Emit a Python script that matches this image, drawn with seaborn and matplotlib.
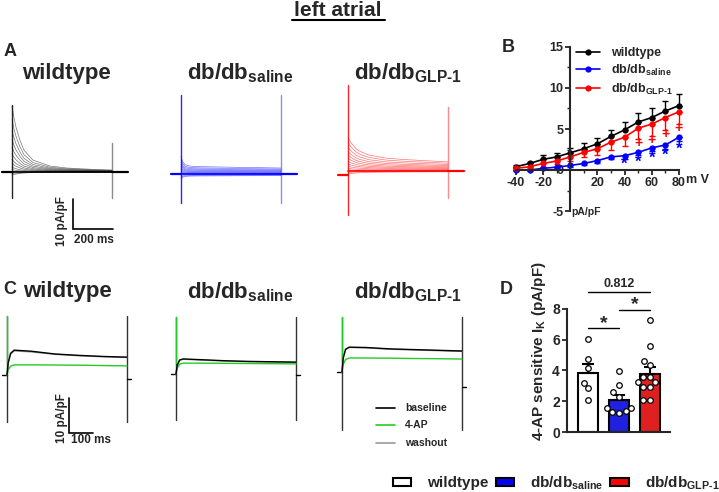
import numpy as np
import pandas as pd
import matplotlib
matplotlib.use("Agg")
import matplotlib.pyplot as plt
from matplotlib.patches import Patch
from matplotlib.ticker import MultipleLocator
import seaborn as sns

sns.set_style("ticks")
plt.rcParams["font.family"] = ["Liberation Sans", "DejaVu Sans"]
plt.rcParams["font.weight"] = "bold"
plt.rcParams["axes.unicode_minus"] = False
plt.rcParams["mathtext.fontset"] = "custom"
plt.rcParams["mathtext.rm"] = "Liberation Sans:bold"
plt.rcParams["mathtext.bf"] = "Liberation Sans:bold"
plt.rcParams["mathtext.it"] = "Liberation Sans:bold"

# ---------------- data ----------------
groups = ["wildtype", "db/db_saline", "db/db_GLP-1"]
group_labels = ["wildtype", r"db/db$_{\mathbf{saline}}$", r"db/db$_{\mathbf{GLP\text{-}1}}$"]
group_colors = ["#000000", "#0000ff", "#ff0000"]

# Panel B: I-V relation (mV, pA/pF)
iv_mv = [-40, -30, -20, -10, 0, 10, 20, 30, 40, 50, 60, 70, 80]
iv_wt = [0.4, 0.8, 1.3, 1.6, 2.1, 2.6, 3.2, 4.1, 4.9, 5.85, 6.4, 7.2, 7.85]
iv_wt_sem = [0.2, 0.2, 0.5, 0.5, 0.6, 0.7, 0.75, 0.8, 1.0, 1.05, 1.2, 1.25, 1.4]
iv_sal = [0.0, 0.0, 0.2, 0.35, 0.55, 0.8, 1.15, 1.6, 1.75, 2.15, 2.7, 3.05, 4.0]
iv_sal_sem = [0.1, 0.1, 0.1, 0.15, 0.2, 0.2, 0.25, 0.3, 0.35, 0.35, 0.4, 0.45, 0.5]
iv_glp = [0.2, 0.4, 0.8, 1.1, 1.6, 2.15, 2.6, 3.4, 4.0, 5.1, 5.6, 6.4, 7.1]
iv_glp_sem = [0.2, 0.3, 0.4, 0.4, 0.5, 0.6, 0.8, 0.9, 1.1, 1.3, 1.4, 1.5, 1.5]
star_mv = [40, 50, 60, 70, 80]
star_y = [0.75, 0.9, 1.4, 1.8, 2.55]
plus_mv = [50, 60, 70, 80]
plus_y = [3.25, 3.65, 4.35, 5.1]

# Panel D: 4-AP sensitive IK (pA/pF), individual cells
d_wt = [6.05, 4.75, 4.15, 3.2, 2.85, 2.1]
d_sal = [3.93, 3.07, 2.57, 2.3, 1.54, 1.54, 1.37, 1.22, 1.33]
d_glp = [7.26, 5.61, 4.59, 4.37, 3.57, 3.57, 3.22, 3.22, 2.89, 2.89, 2.1, 2.1]

# Panel A: representative sweeps (-40..+80 mV): peak amplitude per sweep and
# normalised time course
a_t = [0, 10, 20, 40, 60, 105, 190, 275, 400, 500]
a_wt_peaks = [-1.0, -0.5, 0.2, 0.8, 1.6, 2.8, 4.2, 6.0, 8.2, 10.8, 13.8, 17.5, 22.0]
a_wt_shape = [1.0, 0.82, 0.68, 0.48, 0.33, 0.18, 0.09, 0.06, 0.04, 0.03]
a_sal_peaks = [-1.5, -1.0, -0.5, 0.2, 0.6, 1.0, 1.5, 2.0, 2.6, 3.2, 3.9, 4.7, 5.7]
a_sal_shape = [1.0, 0.7, 0.55, 0.47, 0.45, 0.43, 0.41, 0.39, 0.37, 0.35]
a_glp_peaks = [-1.0, -0.5, 0.3, 0.9, 1.6, 2.4, 3.3, 4.3, 5.4, 6.6, 8.0, 9.6, 11.3]
a_glp_shape = [1.0, 0.88, 0.8, 0.66, 0.58, 0.47, 0.38, 0.34, 0.3, 0.27]
a_spike_start = [(22.3, -8.7), (26.3, -9.7), (28.7, -14.7)]
a_spike_end = [(9.7, -8.7), (26.3, -9.7), (21.3, -9.0)]
a_hold = [0.0, 0.0, -1.3]

# Panel C: baseline / 4-AP / washout traces (pA/pF)
c_t = [0, 5, 15, 30, 100, 200, 300, 400, 500]
c_wt = {"baseline": [0, 3.5, 6.2, 7.1, 6.8, 6.0, 5.6, 5.3, 5.1],
        "4-AP": [0, 1.5, 2.5, 2.9, 2.9, 2.85, 2.8, 2.7, 2.6],
        "washout": [0, 3.3, 6.0, 6.9, 6.6, 5.9, 5.5, 5.2, 5.0]}
c_sal = {"baseline": [0, 2.5, 4.0, 4.3, 4.1, 3.8, 3.6, 3.5, 3.4],
         "4-AP": [0, 1.6, 2.8, 3.1, 3.1, 3.05, 3.0, 2.95, 2.9],
         "washout": [0, 2.4, 3.9, 4.2, 4.0, 3.7, 3.5, 3.4, 3.3]}
c_glp = {"baseline": [0, 4.0, 6.5, 7.1, 7.0, 6.6, 6.4, 6.2, 6.0],
         "4-AP": [0, 2.2, 3.6, 4.0, 4.0, 3.95, 3.85, 3.8, 3.7],
         "washout": [0, 3.9, 6.4, 7.0, 6.9, 6.5, 6.3, 6.1, 5.9]}
c_spike = [(16.9, -13.4), (16.3, -13.1), (15.7, -16.6)]
c_tail = [-1.1, -0.3, -4.3]
c_colors = {"baseline": "#000000", "4-AP": "#22cc22", "washout": "#999999"}

# ---------------- figure ----------------
W, H = 719, 492
fig = plt.figure(figsize=(W / 100, H / 100), dpi=100)


def add_ax(x0, y0, x1, y1):
    return fig.add_axes([x0 / W, 1 - y1 / H, (x1 - x0) / W, (y1 - y0) / H])


def ftext(x, y, s, **kw):
    kw.setdefault("ha", "center")
    kw.setdefault("va", "center")
    kw.setdefault("fontweight", "bold")
    fig.text(x / W, 1 - y / H, s, **kw)


def trace_ax(x0, x1, y0, y1, start_px, base_px, px_ms, px_unit):
    ax = add_ax(x0, y0, x1, y1)
    ax.set_xlim((x0 - start_px) / px_ms, (x1 - start_px) / px_ms)
    ax.set_ylim((base_px - y1) / px_unit, (base_px - y0) / px_unit)
    ax.axis("off")
    return ax


# Title
ftext(338, 10, "left atrial", fontsize=15)
fig.add_artist(plt.Line2D([292 / W, 385 / W], [1 - 19.5 / H, 1 - 19.5 / H], color="black", lw=1.5))

# Panel labels
ftext(10, 52, "A", fontsize=13)
ftext(508, 48, "B", fontsize=13)
ftext(10, 290, "C", fontsize=13)
ftext(506, 289, "D", fontsize=13)

# ---------- Panel A ----------
a_axes_spec = [
    dict(x0=0, x1=140, start=12, base=172),
    dict(x0=165, x1=305, start=181, base=174),
    dict(x0=333, x1=470, start=348, base=171),
]
a_peaks_all = [a_wt_peaks, a_sal_peaks, a_glp_peaks]
a_shapes_all = [a_wt_shape, a_sal_shape, a_glp_shape]
title_x_A = [66, 240, 408]
for gi, spec in enumerate(a_axes_spec):
    ax = trace_ax(spec["x0"], spec["x1"], 82, 250, spec["start"], spec["base"], 0.2, 3.0)
    rows = []
    for si, pk in enumerate(a_peaks_all[gi]):
        for t, s in zip(a_t, a_shapes_all[gi]):
            rows.append({"t": t, "I": pk * s, "sweep": si})
    df = pd.DataFrame(rows)
    col = group_colors[gi]
    sns.lineplot(data=df, x="t", y="I", units="sweep", estimator=None, ax=ax,
                 color=col, lw=0.5, alpha=0.55, legend=False)
    hold = a_hold[gi]
    ax.plot([-50, 0], [hold, hold], color=col, lw=1.6)
    ax.plot([0, 500], [0, 0], color=col, lw=1.2)
    ax.plot([500, 580], [0, 0], color=col, lw=1.6)
    s0 = a_spike_start[gi]
    s1 = a_spike_end[gi]
    ax.plot([0, 0], [s0[1], s0[0]], color=col, lw=1.0, alpha=0.85)
    ax.plot([500, 500], [s1[1], s1[0]], color=col, lw=1.0, alpha=0.45)
    ax.set_xlabel("")
    ax.set_ylabel("")
    if gi == 0:
        # scale bar 10 pA/pF, 200 ms
        ax.plot([305, 305, 505], [-9, -19, -19], color="black", lw=1.2,
                solid_joinstyle="miter")
    ftext(title_x_A[gi], 73, group_labels[gi], fontsize=16)

ftext(62, 221, "10 pA/pF", fontsize=8.5, rotation=90)
ftext(94, 240, "200 ms", fontsize=8.5)

# ---------- Panel C ----------
c_axes_spec = [
    dict(x0=0, x1=140, start=7, base=375),
    dict(x0=165, x1=305, start=176, base=374),
    dict(x0=333, x1=470, start=342, base=372),
]
c_data_all = [c_wt, c_sal, c_glp]
for gi, spec in enumerate(c_axes_spec):
    ax = trace_ax(spec["x0"], spec["x1"], 305, 455, spec["start"], spec["base"], 0.24, 3.5)
    rows = []
    for cond in ["washout", "4-AP", "baseline"]:
        for t, v in zip(c_t, c_data_all[gi][cond]):
            rows.append({"t": t, "I": v, "cond": cond})
    df = pd.DataFrame(rows)
    sp = c_spike[gi]
    ax.plot([0, 0], [sp[1], sp[0]], color="#333333", lw=1.0)
    ax.plot([0, 0], [sp[0] * 0.2, sp[0]], color="#22cc22", lw=1.0)
    ax.plot([500, 500], [sp[1], sp[0]], color="#333333", lw=1.0)
    ax.plot([-20, 0], [0, 0], color="black", lw=1.0)
    ax.plot([500, 515], [c_tail[gi], c_tail[gi]], color="black", lw=1.0)
    sns.lineplot(data=df, x="t", y="I", hue="cond", palette=c_colors,
                 hue_order=["washout", "4-AP", "baseline"], estimator=None,
                 ax=ax, lw=1.0, legend=False)
    ax.set_xlabel("")
    ax.set_ylabel("")
    if gi == 0:
        ax.plot([258, 258, 358], [-6.6, -16.6, -16.6], color="black", lw=1.2,
                solid_joinstyle="miter")

title_x_C = [67, 240, 408]
for gi in range(3):
    ftext(title_x_C[gi], 292, group_labels[gi], fontsize=16)
ftext(62, 418, "10 pA/pF", fontsize=8.5, rotation=90)
ftext(91, 440, "100 ms", fontsize=8.5)

# C legend
leg_items = [("baseline", 408), ("4-AP", 425), ("washout", 443)]
for name, yy in leg_items:
    fig.add_artist(plt.Line2D([376 / W, 395 / W], [1 - yy / H, 1 - yy / H],
                              color=c_colors[name], lw=1.2))
    ftext(405, yy, name, fontsize=7.5, ha="left")

# ---------- Panel B ----------
px_mv = 1.358
px_u = 8.2
bx0 = 516 - 2 * px_mv
bx1 = 516 + 122 * px_mv
axB = add_ax(bx0, 170 - 15 * px_u, bx1, 170 + 5 * px_u)
iv_rows = []
for g, vals in zip(groups, [iv_wt, iv_sal, iv_glp]):
    for mv, v in zip(iv_mv, vals):
        iv_rows.append({"mV": mv, "I": v, "group": g})
iv_df = pd.DataFrame(iv_rows)
pal = dict(zip(groups, group_colors))
# error bars (one-sided)
axB.errorbar(iv_mv, iv_wt, yerr=[np.zeros(len(iv_wt)), iv_wt_sem], fmt="none",
             ecolor="black", elinewidth=1.0, capsize=2.5, capthick=1.0)
axB.errorbar(iv_mv, iv_glp, yerr=[iv_glp_sem, np.zeros(len(iv_glp))], fmt="none",
             ecolor="red", elinewidth=1.0, capsize=2.5, capthick=1.0)
axB.errorbar(iv_mv, iv_sal, yerr=[iv_sal_sem, np.zeros(len(iv_sal))], fmt="none",
             ecolor="blue", elinewidth=1.0, capsize=2.5, capthick=1.0)
sns.lineplot(data=iv_df, x="mV", y="I", hue="group", hue_order=groups, palette=pal,
             marker="o", markersize=4.5, markeredgewidth=0, lw=1.2, ax=axB,
             estimator=None)
for x, y in zip(star_mv, star_y):
    axB.text(x, y, "*", color="blue", ha="center", va="center", fontsize=12, fontweight="bold")
for x, y in zip(plus_mv, plus_y):
    axB.text(x, y, "+", color="red", ha="center", va="center", fontsize=10, fontweight="bold")
axB.set_xlim(-42, 82)
axB.set_ylim(-5, 15)
axB.spines["left"].set_position(("data", 0))
axB.spines["bottom"].set_position(("data", 0))
axB.spines["right"].set_visible(False)
axB.spines["top"].set_visible(False)
axB.spines["bottom"].set_bounds(-40, 80)
for sp in ["left", "bottom"]:
    axB.spines[sp].set_linewidth(1.5)
axB.set_xticks([-40, -20, 0, 20, 40, 60, 80])
axB.set_xticklabels(["-40", "-20", "", "20", "40", "60", "80"])
axB.xaxis.set_minor_locator(MultipleLocator(10))
axB.set_yticks([-5, 0, 5, 10, 15])
axB.yaxis.set_minor_locator(MultipleLocator(2.5))
axB.tick_params(axis="both", which="major", labelsize=9, width=1.3, length=3.5, pad=1.5)
axB.tick_params(axis="both", which="minor", width=1.0, length=2)
for lab in axB.get_xticklabels() + axB.get_yticklabels():
    lab.set_fontweight("bold")
axB.set_xlabel("")
axB.set_ylabel("")
axB.set_facecolor("none")
hB, _ = axB.get_legend_handles_labels()
axB.legend(hB, group_labels, loc="upper left", bbox_to_anchor=((576 - bx0) / (bx1 - bx0), 1.0),
           frameon=False, handlelength=1.9, labelspacing=0.3, borderaxespad=0, borderpad=0,
           handletextpad=0.9, prop={"weight": "bold", "size": 9})
ftext(697, 180, "m V", fontsize=9)
ftext(586, 212, "pA/pF", fontsize=7.5)

# ---------- Panel D ----------
px_d = 15.4
d_sp = 31.0
dx0 = 588 - 0.68 * d_sp
dx1 = 588 + 2.65 * d_sp
axD = add_ax(dx0, 432 - 10.5 * px_d, dx1, 432)
d_rows = []
for g, vals in zip(groups, [d_wt, d_sal, d_glp]):
    for v in vals:
        d_rows.append({"group": g, "I": v})
d_df = pd.DataFrame(d_rows)
bar_pal = {"wildtype": "#ffffff", "db/db_saline": "#0000ff", "db/db_GLP-1": "#ff0000"}
sns.barplot(data=d_df, x="group", y="I", hue="group", order=groups, palette=bar_pal,
            errorbar=None, width=0.65, edgecolor="black", linewidth=1.5, ax=axD,
            legend=False)
means = [np.mean(v) for v in [d_wt, d_sal, d_glp]]
sems = [np.std(v, ddof=1) / np.sqrt(len(v)) for v in [d_wt, d_sal, d_glp]]
axD.errorbar([0, 1, 2], means, yerr=[[0, 0, 0], sems], fmt="none", ecolor="black",
             elinewidth=1.5, capsize=4, capthick=1.5, zorder=3)
sns.swarmplot(data=d_df, x="group", y="I", order=groups, color="white", edgecolor="black",
              linewidth=0.9, size=4, ax=axD, zorder=4)
axD.set_xlim(-0.68, 2.65)
axD.set_ylim(0, 10.5)
axD.spines["top"].set_visible(False)
axD.spines["right"].set_visible(False)
axD.spines["left"].set_bounds(0, 8)
for sp in ["left", "bottom"]:
    axD.spines[sp].set_linewidth(1.5)
axD.set_yticks([0, 2, 4, 6, 8])
axD.set_xticks([])
axD.tick_params(axis="y", labelsize=10, width=1.3, length=3.5, pad=1.5)
for lab in axD.get_yticklabels():
    lab.set_fontweight("bold")
axD.set_xlabel("")
axD.set_ylabel(r"4-AP sensitive I$_{\mathbf{K}}$ (pA/pF)", fontsize=11, fontweight="bold",
               labelpad=3)
axD.set_facecolor("none")
# significance annotations
axD.plot([0, 1], [6.75, 6.75], color="black", lw=1.0)
axD.text(0.5, 7.05, "*", ha="center", va="center", fontsize=14, fontweight="bold")
axD.plot([1, 2], [7.92, 7.92], color="black", lw=1.0)
axD.text(1.5, 8.25, "*", ha="center", va="center", fontsize=14, fontweight="bold")
axD.plot([0, 2], [9.1, 9.1], color="black", lw=1.0)
axD.text(1.0, 9.6, "0.812", ha="center", va="center", fontsize=9, fontweight="bold")

# bottom legend
handles = [Patch(facecolor=bar_pal[g], edgecolor="black", linewidth=1.5) for g in groups]
fig.legend(handles, group_labels, loc="center left", bbox_to_anchor=(393 / W, 1 - 483 / H),
           ncol=3, frameon=False, handlelength=1.2, handleheight=0.42, handletextpad=1.05,
           columnspacing=0.45, borderaxespad=0, borderpad=0,
           prop={"weight": "bold", "size": 11})

fig.savefig("out.png", dpi=100)
